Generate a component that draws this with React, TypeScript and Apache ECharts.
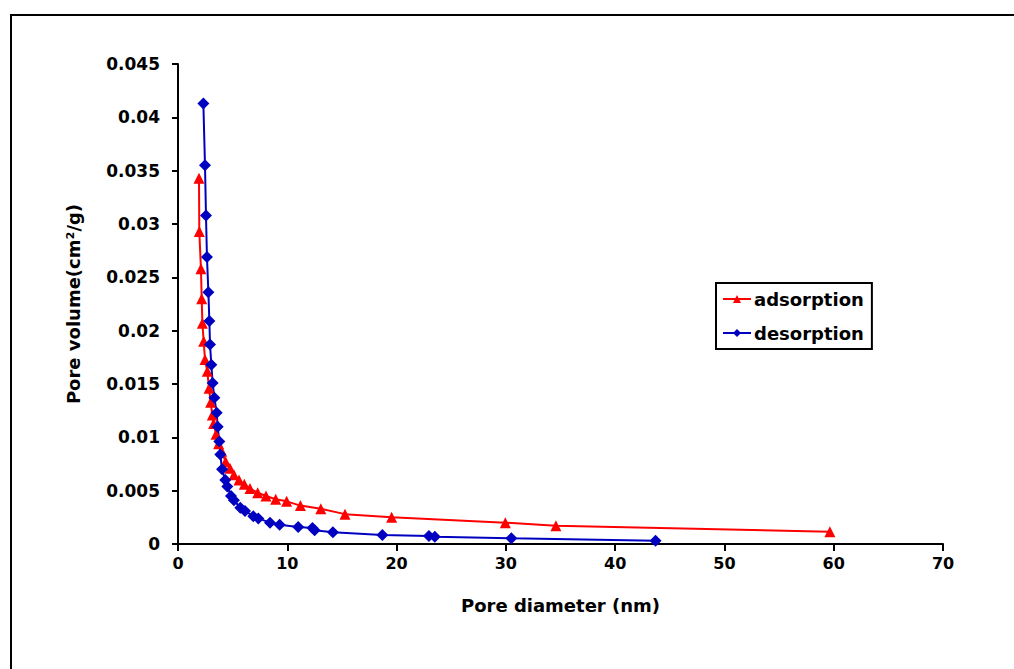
import React, { useEffect, useRef } from "react";
import * as echarts from "echarts";

const adsX = [1.92, 1.95, 2.1, 2.17, 2.23, 2.35, 2.47, 2.68, 2.84, 2.99, 3.14, 3.26, 3.48, 3.72, 4.0, 4.36, 4.76, 5.12, 5.58, 6.07, 6.59, 7.29, 8.05, 8.94, 9.94, 11.2, 13.07, 15.28, 19.55, 29.95, 34.58, 59.65];
const adsY = [0.0343, 0.0293, 0.0258, 0.023, 0.0207, 0.019, 0.0173, 0.0162, 0.0146, 0.0133, 0.0121, 0.0113, 0.0103, 0.0094, 0.0087, 0.0077, 0.0071, 0.0065, 0.006, 0.0056, 0.0052, 0.0048, 0.0045, 0.0042, 0.004, 0.0036, 0.0033, 0.0028, 0.0025, 0.002, 0.0017, 0.00115];

const desX = [2.32, 2.47, 2.56, 2.65, 2.78, 2.87, 2.93, 3.05, 3.17, 3.33, 3.54, 3.63, 3.78, 3.87, 4.03, 4.33, 4.51, 4.85, 5.12, 5.7, 6.13, 6.89, 7.35, 8.42, 9.3, 11.0, 12.3, 12.5, 14.17, 18.7, 22.96, 23.5, 30.5, 43.7];
const desY = [0.0413, 0.0355, 0.0308, 0.0269, 0.0236, 0.0209, 0.0187, 0.0168, 0.0151, 0.0137, 0.0123, 0.011, 0.0096, 0.0084, 0.007, 0.006, 0.0054, 0.0045, 0.0041, 0.0034, 0.0031, 0.0026, 0.0024, 0.002, 0.0018, 0.0016, 0.0015, 0.0013, 0.0011, 0.00084, 0.00075, 0.00069, 0.00053, 0.00031];

const seriesNames = ["adsorption", "desorption"];
const xTitle = "Pore diameter (nm)";
const yTitle = "Pore volume(cm²/g)";

const FONT = "DejaVu Sans";

export default function App() {
  const ref = useRef<HTMLDivElement>(null);
  useEffect(() => {
    if (!ref.current) return;
    const chart = echarts.init(ref.current, null, { renderer: "svg" });
    const axisLabelStyle = { fontFamily: FONT, fontWeight: "bold" as const, color: "#000" };
    chart.setOption({
      animation: false,
      backgroundColor: "#fff",
      graphic: [
        {
          type: "rect",
          shape: { x: 11, y: 15, width: 1100, height: 800 },
          style: { fill: "none", stroke: "#000", lineWidth: 2 },
        },
      ],
      grid: { left: 178, top: 64, right: 71, bottom: 125 },
      legend: {
        orient: "vertical",
        left: 716,
        top: 283,
        padding: [7, 8, 7, 6],
        itemGap: 16,
        itemWidth: 28,
        itemHeight: 10,
        borderColor: "#000",
        borderWidth: 2,
        backgroundColor: "#fff",
        textStyle: { fontFamily: FONT, fontWeight: "bold", fontSize: 18, color: "#000", padding: [0, 0, 0, -2] },
        data: seriesNames,
      },
      xAxis: {
        type: "value",
        min: 0,
        max: 70,
        interval: 10,
        name: xTitle,
        nameLocation: "middle",
        nameGap: 52,
        nameTextStyle: { fontFamily: FONT, fontWeight: "bold", fontSize: 18, color: "#000" },
        axisLine: { show: true, onZero: false, lineStyle: { color: "#000", width: 2 } },
        axisTick: { show: true, inside: false, length: 7, lineStyle: { color: "#000", width: 2 } },
        axisLabel: { ...axisLabelStyle, fontSize: 16, margin: 11 },
        splitLine: { show: false },
      },
      yAxis: {
        type: "value",
        min: 0,
        max: 0.045,
        interval: 0.005,
        name: yTitle,
        nameLocation: "middle",
        nameGap: 96,
        nameTextStyle: { fontFamily: FONT, fontWeight: "bold", fontSize: 18, color: "#000" },
        axisLine: { show: true, onZero: false, lineStyle: { color: "#000", width: 2 } },
        axisTick: { show: true, inside: false, length: 6, lineStyle: { color: "#000", width: 2 } },
        axisLabel: {
          ...axisLabelStyle,
          fontSize: 17,
          margin: 18,
          formatter: (v: number) => (v === 0 ? "0" : String(parseFloat(v.toFixed(3)))),
        },
        splitLine: { show: false },
      },
      series: [
        {
          name: seriesNames[0],
          type: "line",
          data: adsX.map((x, i) => [x, adsY[i]]),
          symbol: "triangle",
          symbolSize: 11,
          itemStyle: { color: "#ff0000" },
          lineStyle: { color: "#ff0000", width: 2 },
        },
        {
          name: seriesNames[1],
          type: "line",
          data: desX.map((x, i) => [x, desY[i]]),
          symbol: "diamond",
          symbolSize: 12,
          itemStyle: { color: "#0000c0" },
          lineStyle: { color: "#0000c0", width: 2 },
        },
      ],
    });
    return () => chart.dispose();
  }, []);
  return (
    <div
      ref={ref}
      style={{ position: "fixed", left: 0, top: 0, width: 1014, height: 669, background: "#fff" }}
    />
  );
}
